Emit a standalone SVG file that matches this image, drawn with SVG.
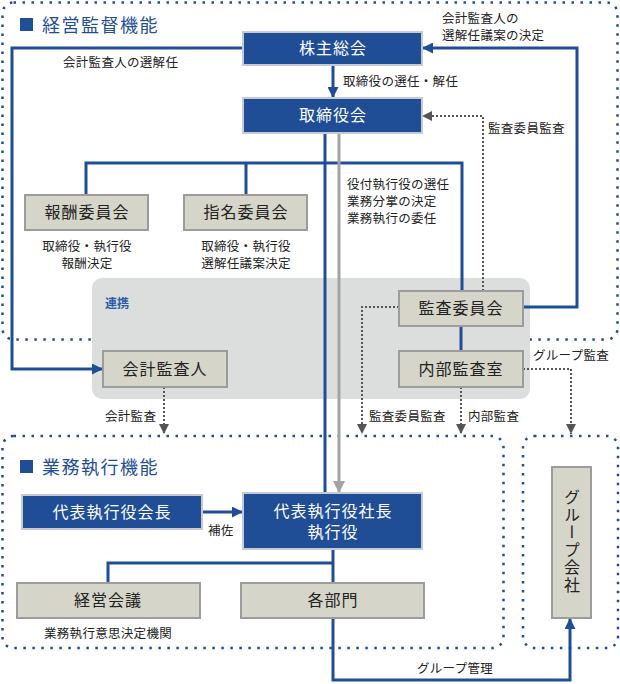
<svg xmlns="http://www.w3.org/2000/svg" width="620" height="684" viewBox="0 0 620 684">
<style>
text{font-family:"Noto Sans CJK JP","Noto Sans",sans-serif;fill:#222}
.region{fill:none;stroke:#1f4e96;stroke-width:2.5;stroke-dasharray:2.5 6.5}
.title{font-size:18px;fill:#1f4e96;letter-spacing:1.5px}
.bn rect{fill:#1f4e96;stroke:#c5cad3;stroke-width:2}
.bn text{fill:#fff;font-size:16px;letter-spacing:1px;text-anchor:middle}
.gn rect{fill:#d6d5c9;stroke:#9c9c9c;stroke-width:2}
.gn text{fill:#222;font-size:16px;letter-spacing:1px;text-anchor:middle}
.lbl{font-size:12.5px;letter-spacing:0.3px}
.mid{text-anchor:middle}
.bl{fill:none;stroke:#1f4e96;stroke-width:3}
.gl{fill:none;stroke:#a3a3a3;stroke-width:3}
.dl{fill:none;stroke:#555;stroke-width:2;stroke-dasharray:2 2}
</style>
<defs>
<marker id="ab" viewBox="0 0 10 10" refX="10" refY="5" markerWidth="11" markerHeight="11" markerUnits="userSpaceOnUse" orient="auto"><path d="M0,0L10,5L0,10z" fill="#1f4e96"/></marker>
<marker id="ag" viewBox="0 0 10 10" refX="10" refY="5" markerWidth="12" markerHeight="12" markerUnits="userSpaceOnUse" orient="auto"><path d="M0,0L10,5L0,10z" fill="#a3a3a3"/></marker>
<marker id="ad" viewBox="0 0 10 10" refX="10" refY="5" markerWidth="10" markerHeight="10" markerUnits="userSpaceOnUse" orient="auto"><path d="M0,0L10,5L0,10z" fill="#555"/></marker>
</defs>

<!-- regions -->
<rect class="region" x="2.5" y="2.5" width="615" height="337" rx="11"/>
<rect class="region" x="2.5" y="436" width="501" height="212" rx="11"/>
<rect class="region" x="523" y="436" width="95" height="212" rx="11"/>
<rect x="92" y="278" width="438" height="121" rx="10" fill="#dcdddd"/>
<text x="105" y="308" style="font-size:12px;font-weight:bold;fill:#2a5aa6">連携</text>

<g id="title1"><rect x="20" y="18" width="13" height="13" fill="#1f4e96"/><text class="title" x="42" y="32">経営監督機能</text></g>
<g id="title2"><rect x="20" y="460" width="13" height="13" fill="#1f4e96"/><text class="title" x="42" y="474">業務執行機能</text></g>

<g id="connectors">
<!-- blue -->
<polyline class="bl" points="243,48 12,48 12,369 103,369" marker-end="url(#ab)"/>
<line class="bl" x1="333" y1="65" x2="333" y2="98" marker-end="url(#ab)"/>
<polyline class="bl" points="523,307 577,307 577,48 422,48" marker-end="url(#ab)"/>
<line class="bl" x1="325" y1="133" x2="325" y2="493"/>
<polyline class="bl" points="86,195 86,163 462,163 462,291"/>
<line class="bl" x1="246" y1="163" x2="246" y2="195"/>
<line class="bl" x1="461" y1="326" x2="461" y2="351"/>
<line class="bl" x1="202" y1="512" x2="243" y2="512" marker-end="url(#ab)"/>
<polyline class="bl" points="108,583 108,563 333,563"/>
<line class="bl" x1="333" y1="549" x2="333" y2="583"/>
<polyline class="bl" points="333,618 333,680 570,680 570,618" marker-end="url(#ab)"/>
<!-- gray -->
<line class="gl" x1="339" y1="133" x2="339" y2="493" marker-end="url(#ag)"/>
<!-- dotted -->
<polyline class="dl" points="483,291 483,116 422,116" marker-end="url(#ad)"/>
<polyline class="dl" points="399,307 362,307 362,434" marker-end="url(#ad)"/>
<line class="dl" x1="461" y1="387" x2="461" y2="434" marker-end="url(#ad)"/>
<polyline class="dl" points="523,369 571,369 571,434" marker-end="url(#ad)"/>
<line class="dl" x1="164" y1="387" x2="164" y2="434" marker-end="url(#ad)"/>
</g>

<g id="labels">
<text class="lbl" x="63" y="67">会計監査人の選解任</text>
<text class="lbl" x="343" y="86">取締役の選任・解任</text>
<text class="lbl" x="442" y="23">会計監査人の</text>
<text class="lbl" x="442" y="40">選解任議案の決定</text>
<text class="lbl" x="488" y="133">監査委員監査</text>
<text class="lbl" x="347" y="189">役付執行役の選任</text>
<text class="lbl" x="347" y="206">業務分掌の決定</text>
<text class="lbl" x="347" y="223">業務執行の委任</text>
<text class="lbl mid" x="87" y="251">取締役・執行役</text>
<text class="lbl mid" x="87" y="268">報酬決定</text>
<text class="lbl mid" x="246" y="251">取締役・執行役</text>
<text class="lbl mid" x="246" y="268">選解任議案決定</text>
<text class="lbl" x="533" y="360">グループ監査</text>
<text class="lbl" x="369" y="421">監査委員監査</text>
<text class="lbl" x="468" y="421">内部監査</text>
<text class="lbl" x="105" y="421">会計監査</text>
<text class="lbl" x="208" y="535">補佐</text>
<text class="lbl mid" x="108" y="638">業務執行意思決定機関</text>
<text class="lbl" x="417" y="673">グループ管理</text>
</g>

<g id="n-kabunushi" class="bn"><rect x="243" y="32" width="179" height="33"/><text x="333" y="54">株主総会</text></g>
<g id="n-torishimari" class="bn"><rect x="243" y="98" width="179" height="35"/><text x="333" y="121">取締役会</text></g>
<g id="n-houshu" class="gn"><rect x="25" y="195" width="123" height="35"/><text x="87" y="218">報酬委員会</text></g>
<g id="n-shimei" class="gn"><rect x="184" y="195" width="123" height="35"/><text x="246" y="218">指名委員会</text></g>
<g id="n-kansa" class="gn"><rect x="399" y="291" width="124" height="35"/><text x="461" y="314">監査委員会</text></g>
<g id="n-naibu" class="gn"><rect x="399" y="351" width="124" height="36"/><text x="461" y="375">内部監査室</text></g>
<g id="n-kaikei" class="gn"><rect x="103" y="351" width="124" height="36"/><text x="165" y="375">会計監査人</text></g>
<g id="n-kaicho" class="bn"><rect x="22" y="495" width="180" height="34"/><text x="112" y="518">代表執行役会長</text></g>
<g id="n-shacho" class="bn"><rect x="243" y="493" width="179" height="56"/><text x="333" y="517">代表執行役社長</text><text x="333" y="538">執行役</text></g>
<g id="n-keiei" class="gn"><rect x="17" y="583" width="183" height="35"/><text x="108" y="606">経営会議</text></g>
<g id="n-kakubumon" class="gn"><rect x="241" y="583" width="183" height="35"/><text x="333" y="606">各部門</text></g>
<g id="n-group" class="gn"><rect x="552" y="467" width="39" height="151"/><text x="572" y="489" style="writing-mode:vertical-rl;text-anchor:start;letter-spacing:1.5px">グループ会社</text></g>
</svg>
